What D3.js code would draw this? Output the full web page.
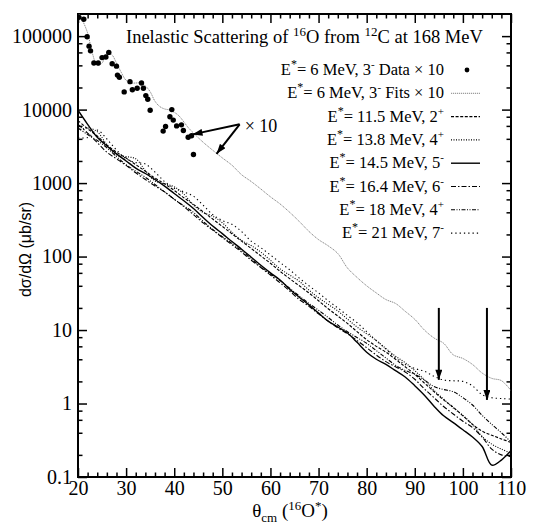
<!DOCTYPE html>
<html>
<head>
<meta charset="utf-8">
<script src="https://cdn.jsdelivr.net/npm/d3@7"></script>
<style>
	body { margin: 0; background: #fff; }
	svg { display: block; }
</style>
</head>
<body>
<div id="app"></div>
<script>
// chart size and plot margins
const width = 533
const height = 527
const margin = { top: 14, right: 22, bottom: 50, left: 78 }
const plotW = width - margin.left - margin.right
const plotH = height - margin.top - margin.bottom

// axis ticks
const xTicks = [20, 30, 40, 50, 60, 70, 80, 90, 100, 110]
const yTicks = [0.1, 1, 10, 100, 1000, 10000, 100000]
const yTickLabels = ['0.1', '1', '10', '100', '1000', '10000', '100000']

// 6 MeV 3- data (x10)
const dataAngles = [20.2, 21.2, 21.9, 22.3, 22.6, 23.3, 24.2, 25.0, 25.8, 26.4, 27.1, 28.0, 28.2, 28.6, 29.6, 30.8, 31.3, 32.3, 33.2, 33.6, 34.1, 34.5, 35.0, 37.7, 38.2, 39.1, 39.5, 39.8, 40.5, 41.5, 41.9, 42.9, 43.6, 44.0]
const dataValues = [180000, 170000, 98000, 73000, 63000, 43000, 43000, 51000, 52000, 60000, 42000, 39000, 29500, 27500, 17400, 24000, 18600, 19500, 23000, 19500, 15500, 13800, 9800, 5100, 5900, 8000, 10000, 7200, 6000, 6200, 5200, 4200, 4400, 2450]

// 6 MeV 3- fit (x10)
const fitAngles = [20, 21, 22, 23, 24, 25, 26, 27, 28, 29, 30, 31, 32, 33, 34, 35, 36, 37, 38, 39, 40, 41, 42, 43, 44,
	46, 48, 50, 52, 54, 56, 58, 60, 62, 64, 66, 68, 70, 72, 74, 76, 78, 80, 82, 84, 86, 88, 90, 92, 94, 96, 98, 100, 102, 104, 106, 108, 110]
const fitValues = [210000, 160000, 110000, 58000, 40000, 43000, 58000, 56000, 43000, 32000, 25000, 23000, 23000, 23000, 21000, 17500, 13000, 11000, 10200, 9900, 9200, 8200, 6800, 5600, 4800,
	3600, 2800, 2200, 1750, 1300, 1050, 830, 650, 520, 400, 300, 220, 170, 140, 110, 70, 52, 40, 32, 26, 23, 18, 14, 10, 7.8, 6.6, 4.6, 4.1, 3.4, 2.6, 2.2, 2.05, 1.5]

// other excited states, all on the same angle grid
const curveAngles = [20, 22, 24, 26, 28, 30, 32, 34, 36, 38, 40, 42, 44, 46, 48, 50, 52, 54, 56, 58, 60, 62, 64, 66, 68, 70, 72, 74, 76, 78, 80, 82, 84, 86, 88, 90, 92, 94, 96, 98, 100, 102, 104, 106, 108, 110]
const e115 = [7080, 5500, 4370, 3310, 2630, 2190, 1780, 1450, 1170, 977, 794, 631, 513, 407, 324, 257, 204, 162, 129, 102, 81, 63, 50, 40, 32, 25, 19.5, 15.5, 12.3, 9.5, 7.4, 6.0, 5.0, 4.0, 3.16, 2.5, 1.9, 1.45, 1.12, 0.89, 0.68, 0.52, 0.42, 0.37, 0.33, 0.295]
const e138 = [5250, 5620, 5010, 3310, 2400, 2290, 2140, 1480, 1070, 977, 891, 708, 501, 398, 355, 288, 214, 166, 141, 115, 89, 68, 56, 46, 35, 27.5, 22.4, 18.2, 14.1, 11, 8.9, 7.2, 5.6, 4.4, 3.6, 2.8, 2.1, 1.5, 1.15, 0.87, 0.69, 0.52, 0.355, 0.28, 0.24, 0.21]
const e145 = [9800, 6300, 4200, 3200, 2500, 2000, 1600, 1350, 1120, 910, 720, 575, 450, 340, 260, 205, 160, 126, 98, 76, 60, 48, 36, 28, 22, 17, 13.2, 11, 9.1, 6.8, 5.0, 4.0, 3.4, 2.8, 2.3, 1.75, 1.3, 0.92, 0.68, 0.55, 0.44, 0.35, 0.26, 0.145, 0.17, 0.23]
const e164 = [6310, 4790, 3550, 2630, 2140, 1740, 1380, 1120, 912, 759, 603, 479, 372, 288, 229, 182, 145, 115, 89, 71, 56, 44, 34, 26, 21, 16.6, 13.2, 10.7, 8.9, 7.2, 5.75, 4.57, 3.72, 3.16, 2.69, 2.14, 1.58, 1.2, 0.91, 0.72, 0.575, 0.47, 0.35, 0.24, 0.2, 0.19]
const e18 = [5620, 4570, 3800, 3020, 2290, 1780, 1450, 1200, 955, 759, 603, 490, 398, 302, 234, 186, 151, 120, 93, 72, 58, 47, 37, 29, 23, 18.6, 14.8, 11.7, 9.5, 7.9, 6.6, 5.25, 4.17, 3.31, 2.82, 2.51, 2.09, 1.7, 1.55, 1.45, 1.2, 0.955, 0.69, 0.52, 0.4, 0.3]
const e21 = [4170, 4170, 5250, 3980, 2820, 2140, 1910, 1820, 1410, 1050, 851, 759, 661, 501, 372, 309, 275, 219, 162, 132, 105, 83, 66, 51, 40, 32, 25, 20, 15.8, 12.6, 9.5, 7.2, 5.5, 4.2, 3.4, 3.0, 2.75, 2.34, 2.09, 2.04, 2.0, 1.74, 1.32, 1.2, 1.17, 1.15]

// legend text pieces
const legendEnergy = ['6', '6', '11.5', '13.8', '14.5', '16.4', '18', '21']
const legendSpin = ['3', '3', '2', '4', '5', '6', '4', '7']
const legendParity = ['-', '-', '+', '+', '-', '-', '+', '-']
const legendSuffix = [' Data \u00d7 10', ' Fits \u00d7 10', '', '', '', '', '', '']

// annotation arrows (data coordinates)
const tenArrowFrom = [53.6, 6300]
const tenArrowTips = [[43.8, 4600], [48.8, 2500]]
const downArrowAngles = [95, 105]
const downArrowTop = 20
const downArrowTips = [2.1, 1.12]

const serif = "'Liberation Serif', 'Times New Roman', serif"
const sans = "'Liberation Sans', Arial, sans-serif"

const svg = d3.select('#app').append('svg')
	.attr('width', width)
	.attr('height', height)

const defs = svg.append('defs')
defs.append('clipPath').attr('id', 'clip')
	.append('rect').attr('width', plotW).attr('height', plotH)
defs.append('marker')
	.attr('id', 'head')
	.attr('markerUnits', 'userSpaceOnUse')
	.attr('viewBox', '0 0 10 7')
	.attr('markerWidth', 11)
	.attr('markerHeight', 7)
	.attr('refX', 10)
	.attr('refY', 3.5)
	.attr('orient', 'auto')
	.append('path')
	.attr('d', 'M0,0 L10,3.5 L0,7 Z')
	.attr('fill', '#000')

const g = svg.append('g').attr('transform', `translate(${margin.left},${margin.top})`)

// scales
const x = d3.scaleLinear().domain([20, 110]).range([0, plotW])
const y = d3.scaleLog().domain([0.1, 200000]).range([plotH, 0])

// minor ticks
const xMinor = d3.range(20, 111, 2).filter((d) => d % 10 !== 0)
const yMinor = []
yTicks.forEach((t) => [2, 4, 6, 8].forEach((m) => { if (t * m < 200000) yMinor.push(t * m) }))

function styleAxis(sel) {
	sel.select('.domain').remove()
	sel.selectAll('line').attr('stroke', '#000').attr('stroke-width', 1.5)
	sel.selectAll('text').attr('font-family', serif).attr('font-size', 20).attr('fill', '#000')
}

// bottom + top
g.append('g').attr('transform', `translate(0,${plotH})`)
	.call(d3.axisBottom(x).tickValues(xTicks).tickSize(-9).tickPadding(4).tickFormat(d3.format('d')))
	.call(styleAxis)
g.append('g').attr('transform', `translate(0,${plotH})`)
	.call(d3.axisBottom(x).tickValues(xMinor).tickSize(-4.5).tickFormat(''))
	.call(styleAxis)
g.append('g')
	.call(d3.axisTop(x).tickValues(xTicks).tickSize(-9).tickFormat(''))
	.call(styleAxis)
g.append('g')
	.call(d3.axisTop(x).tickValues(xMinor).tickSize(-4.5).tickFormat(''))
	.call(styleAxis)

// left + right
g.append('g')
	.call(d3.axisLeft(y).tickValues(yTicks).tickSize(-9).tickPadding(6).tickFormat((d) => yTickLabels[yTicks.indexOf(d)]))
	.call(styleAxis)
g.append('g')
	.call(d3.axisLeft(y).tickValues(yMinor).tickSize(-4.5).tickFormat(''))
	.call(styleAxis)
g.append('g').attr('transform', `translate(${plotW},0)`)
	.call(d3.axisRight(y).tickValues(yTicks).tickSize(-9).tickFormat(''))
	.call(styleAxis)
g.append('g').attr('transform', `translate(${plotW},0)`)
	.call(d3.axisRight(y).tickValues(yMinor).tickSize(-4.5).tickFormat(''))
	.call(styleAxis)

// frame
g.append('rect')
	.attr('width', plotW)
	.attr('height', plotH)
	.attr('fill', 'none')
	.attr('stroke', '#000')
	.attr('stroke-width', 2)

// curves
const line = d3.line()
	.x((d) => x(d[0]))
	.y((d) => y(d[1]))
	.curve(d3.curveCatmullRom.alpha(0.5))

const series = [
	{ angles: fitAngles, values: fitValues, stroke: '#777', width: 0.9, dash: '1.2,0.8' },
	{ angles: curveAngles, values: e115, stroke: '#000', width: 1.1, dash: '3,1.6' },
	{ angles: curveAngles, values: e138, stroke: '#000', width: 1.1, dash: '1,1.5' },
	{ angles: curveAngles, values: e145, stroke: '#000', width: 1.4, dash: null },
	{ angles: curveAngles, values: e164, stroke: '#000', width: 1.1, dash: '5,2,1.5,2' },
	{ angles: curveAngles, values: e18, stroke: '#000', width: 1.1, dash: '4,1.5,1,1.5,1,1.5' },
	{ angles: curveAngles, values: e21, stroke: '#000', width: 1.1, dash: '1.3,3' },
]

const plot = g.append('g').attr('clip-path', 'url(#clip)')
series.forEach((s) => {
	plot.append('path')
		.datum(s.angles.map((a, i) => [a, s.values[i]]))
		.attr('d', line)
		.attr('fill', 'none')
		.attr('stroke', s.stroke)
		.attr('stroke-width', s.width)
		.attr('stroke-dasharray', s.dash)
})

// data points
plot.selectAll('circle.pt')
	.data(dataAngles.map((a, i) => [a, dataValues[i]]))
	.enter()
	.append('circle')
	.attr('class', 'pt')
	.attr('cx', (d) => x(d[0]))
	.attr('cy', (d) => y(d[1]))
	.attr('r', 2.7)
	.attr('fill', '#000')

// x10 arrows
tenArrowTips.forEach((t) => {
	g.append('line')
		.attr('x1', x(tenArrowFrom[0]))
		.attr('y1', y(tenArrowFrom[1]))
		.attr('x2', x(t[0]))
		.attr('y2', y(t[1]))
		.attr('stroke', '#000')
		.attr('stroke-width', 2)
		.attr('marker-end', 'url(#head)')
})
g.append('text')
	.attr('x', x(tenArrowFrom[0]) + 5)
	.attr('y', y(tenArrowFrom[1]) + 8)
	.attr('font-family', serif)
	.attr('font-size', 18)
	.text('\u00d7 10')

// vertical arrows
downArrowAngles.forEach((a, i) => {
	g.append('line')
		.attr('x1', x(a))
		.attr('y1', y(downArrowTop))
		.attr('x2', x(a))
		.attr('y2', y(downArrowTips[i]))
		.attr('stroke', '#000')
		.attr('stroke-width', 2)
		.attr('marker-end', 'url(#head)')
})

// title
const title = svg.append('text')
	.attr('x', 126)
	.attr('y', 43)
	.attr('font-family', serif)
	.attr('font-size', 18.5)
title.append('tspan').text('Inelastic Scattering of ')
title.append('tspan').attr('dy', -7).attr('font-size', 13).text('16')
title.append('tspan').attr('dy', 7).text('O from ')
title.append('tspan').attr('dy', -7).attr('font-size', 13).text('12')
title.append('tspan').attr('dy', 7).text('C at 168 MeV')

// legend
const legendStyles = [null, series[0], series[1], series[2], series[3], series[4], series[5], series[6]]
legendEnergy.forEach((e, i) => {
	const by = 75 + i * 23.3
	const t = svg.append('text')
		.attr('x', 444)
		.attr('y', by)
		.attr('text-anchor', 'end')
		.attr('font-family', serif)
		.attr('font-size', 16.5)
	t.append('tspan').text('E')
	t.append('tspan').attr('dy', -7).attr('font-size', 12).text('*')
	t.append('tspan').attr('dy', 7).text(`= ${e} MeV, ${legendSpin[i]}`)
	t.append('tspan').attr('dy', -7).attr('font-size', 11).text(legendParity[i])
	if (legendSuffix[i]) t.append('tspan').attr('dy', 7).text(legendSuffix[i])

	const s = legendStyles[i]
	if (s === null) {
		svg.append('circle').attr('cx', 467).attr('cy', by - 5).attr('r', 2.4).attr('fill', '#000')
	} else {
		svg.append('line')
			.attr('x1', 451).attr('x2', 480)
			.attr('y1', by - 5).attr('y2', by - 5)
			.attr('stroke', s.stroke)
			.attr('stroke-width', s.width)
			.attr('stroke-dasharray', s.dash)
	}
})

// axis labels
svg.append('text')
	.attr('transform', `translate(31,${margin.top + plotH / 2 + 4}) rotate(-90)`)
	.attr('text-anchor', 'middle')
	.attr('font-family', sans)
	.attr('font-size', 16)
	.text('d\u03c3/d\u03a9 (\u03bcb/sr)')

const xl = svg.append('text')
	.attr('x', 290)
	.attr('y', 517)
	.attr('text-anchor', 'middle')
	.attr('font-family', serif)
	.attr('font-size', 19)
xl.append('tspan').text('\u03b8')
xl.append('tspan').attr('dy', 5).attr('font-size', 13).text('cm')
xl.append('tspan').attr('dy', -5).text(' (')
xl.append('tspan').attr('dy', -7).attr('font-size', 13).text('16')
xl.append('tspan').attr('dy', 7).text('O')
xl.append('tspan').attr('dy', -7).attr('font-size', 13).text('*')
xl.append('tspan').attr('dy', 7).text(')')
</script>
</body>
</html>
